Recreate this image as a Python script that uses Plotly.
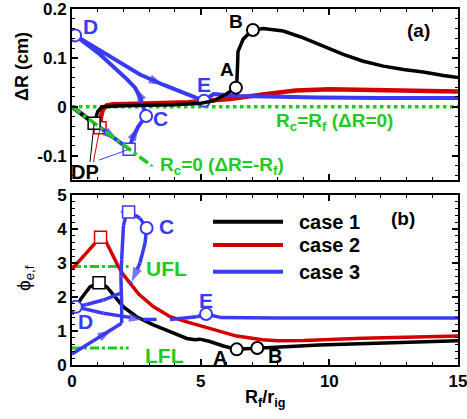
import plotly.graph_objects as go

# ---------------- data : panel (a)  dR (cm) vs Rf/rig ----------------
c1a_x = [0, 0.86, 1.0, 1.16, 2.0, 3.0, 4.0, 5.0, 5.5, 5.75, 6.0, 6.37, 6.4, 6.43, 6.45, 6.57, 6.65, 6.8,
         7.03, 7.43, 8.21, 8.99, 9.77, 10.54, 11.32, 12.1, 12.88, 13.65, 14.43, 15.0]
c1a_y = [0, -0.034, -0.01, 0.0, 0.002, 0.003, 0.004, 0.007, 0.012, 0.019, 0.026, 0.039, 0.045, 0.08, 0.113,
         0.128, 0.138, 0.146, 0.157, 0.160, 0.155, 0.141, 0.124, 0.107, 0.093, 0.083, 0.076, 0.071, 0.064, 0.060]

c2a_x = [0, 1.09, 1.13, 1.2, 1.35, 1.6, 2.5, 3.5, 4.5, 5.2, 6.14, 7.4, 8.7, 10, 12, 15]
c2a_y = [0, -0.043, -0.02, -0.006, 0.003, 0.005, 0.006, 0.007, 0.009, 0.012, 0.016, 0.025, 0.033, 0.036, 0.034, 0.031]

c3a_x = [0, 1.75, 2.22, 2.37, 2.57, 2.76, 2.88, 2.64, 2.45, 2.14, 1.59, 1.09, 0.12, 1.48, 2.64, 3.54, 3.81,
         4.59, 5.13, 5.5, 6.5, 8.0, 9.6, 12, 15]
c3a_y = [0, -0.068, -0.087, -0.062, -0.041, -0.027, -0.019, 0.021, 0.039, 0.056, 0.082, 0.107, 0.146, 0.103,
         0.066, 0.045, 0.039, 0.023, 0.012, 0.026, 0.022, 0.020, 0.019, 0.018, 0.018]

rcrf_x = [0, 15]
rcrf_y = [0, 0]
rc0_x = [0, 3.1]
rc0_y = [0, -0.121]

# ---------------- data : panel (b)  phi_e,f vs Rf/rig ----------------
c1b_x = [0, 0.35, 0.7, 1.05, 1.35, 1.6, 2.0, 2.51, 3.16, 3.81, 4.46, 4.78, 4.97, 5.36, 5.88, 6.4, 7.2, 8.1,
         9.6, 12, 15]
c1b_y = [1.5, 1.95, 2.3, 2.42, 2.30, 2.06, 1.71, 1.42, 1.18, 0.98, 0.78, 0.74, 0.76, 0.69, 0.56, 0.46, 0.5,
         0.53, 0.59, 0.65, 0.71]

c2b_x = [0, 1.11, 1.3, 1.6, 1.8, 2.0, 2.3, 2.6, 3.16, 3.81, 4.46, 5.1, 5.75, 6.4, 7.4, 8.0, 9.0, 11.3, 15]
c2b_y = [2.82, 3.76, 3.66, 3.2, 2.9, 2.65, 2.35, 2.08, 1.72, 1.42, 1.27, 1.13, 0.98, 0.85, 0.74, 0.71, 0.72,
         0.79, 0.85]

c3b_x = [0, 0.8, 1.54, 1.93, 1.93, 1.9, 1.93, 1.95, 2.0, 2.08, 2.2, 2.45, 2.64, 2.9, 2.84, 2.64, 2.32, 1.87,
         1.22, 0.57, 0.15, 1.22, 2.77, 3.81, 4.85, 5.21, 5.75, 8, 12, 15]
c3b_y = [0.32, 0.7, 1.03, 1.23, 1.8, 2.6, 3.1, 3.6, 4.1, 4.35, 4.5, 4.4, 4.32, 4.03, 3.59, 3.0, 2.45, 2.11,
         1.91, 1.78, 1.71, 1.52, 1.34, 1.34, 1.42, 1.5, 1.40, 1.38, 1.38, 1.38]

ufl_x = [0, 2.2]
ufl_y = [2.9, 2.9]
lfl_x = [0, 2.2]
lfl_y = [0.5, 0.5]

case_names = ["case 1", "case 2", "case 3"]

# ---------------- styles ----------------
FONT = "Liberation Sans, Arial, sans-serif"
BLACK, RED, BLUE, GREEN = "#000000", "#d40000", "#3a3af2", "#1ecb1e"
colors = [BLACK, RED, BLUE]

# plot-area geometry in pixels (for paper-coordinate helpers)
L, R, T, B = 72, 9, 9, 54
W, H = 467, 419
PW, PH = W - L - R, H - T - B


def px2paper(px, py):
    return (px - L) / PW, (H - B - py) / PH


fig = go.Figure()


def curve(x, y, color, ax, width=4, arrows=(), circles=(), squares=()):
    xa, ya = ("x2", "y2") if ax == "a" else ("x", "y")
    sym = ["circle"] * len(x)
    size = [0] * len(x)
    for i in arrows:
        sym[i] = "arrow"
        size[i] = 15
    fig.add_trace(go.Scatter(x=x, y=y, mode="lines+markers", xaxis=xa, yaxis=ya,
                             line=dict(color=color, width=width),
                             marker=dict(symbol=sym, size=size, color=color, angleref="previous",
                                         line=dict(width=0)),
                             showlegend=False, hoverinfo="skip"))
    if circles:
        fig.add_trace(go.Scatter(x=[x[i] for i in circles], y=[y[i] for i in circles], mode="markers",
                                 xaxis=xa, yaxis=ya,
                                 marker=dict(symbol="circle", size=12, color="white",
                                             line=dict(color=color, width=2)),
                                 showlegend=False, hoverinfo="skip"))
    if squares:
        fig.add_trace(go.Scatter(x=[x[i] for i in squares], y=[y[i] for i in squares], mode="markers",
                                 xaxis=xa, yaxis=ya,
                                 marker=dict(symbol="square", size=12, color="white",
                                             line=dict(color=color, width=1.5)),
                                 showlegend=False, hoverinfo="skip"))


# green reference lines (a)
fig.add_trace(go.Scatter(x=rcrf_x, y=rcrf_y, mode="lines", xaxis="x2", yaxis="y2",
                         line=dict(color=GREEN, width=3.5, dash="dot"), showlegend=False, hoverinfo="skip"))

# panel (a) curves
curve(c2a_x, c2a_y, RED, "a", width=4.5, squares=(1,))
curve(c3a_x, c3a_y, BLUE, "a", width=4, arrows=(1, 4, 8, 15), circles=(6, 12, 18), squares=(2,))
curve(c1a_x, c1a_y, BLACK, "a", width=3.5, circles=(11, 18), squares=(1,))

fig.add_trace(go.Scatter(x=rc0_x, y=rc0_y, mode="lines+markers", xaxis="x2", yaxis="y2",
                         line=dict(color=GREEN, width=3.5, dash="dashdot"),
                         marker=dict(symbol=["circle", "triangle-up"], size=[0, 5], color=GREEN),
                         showlegend=False, hoverinfo="skip"))

# DP leader lines
dp_tip = {"black": (0.70, -0.113), "red": (0.83, -0.113), "blue": (1.06, -0.109)}
for (x0, y0), (x1, y1), col in [((c1a_x[1], c1a_y[1]), dp_tip["black"], BLACK),
                                ((c2a_x[1], c2a_y[1]), dp_tip["red"], RED),
                                ((c3a_x[2], c3a_y[2]), dp_tip["blue"], BLUE)]:
    fig.add_trace(go.Scatter(x=[x0, x1], y=[y0, y1], mode="lines", xaxis="x2", yaxis="y2",
                             line=dict(color=col, width=1), showlegend=False, hoverinfo="skip"))

# panel (b)
fig.add_trace(go.Scatter(x=ufl_x, y=ufl_y, mode="lines", line=dict(color=GREEN, width=3, dash="dashdot"),
                         showlegend=False, hoverinfo="skip"))
fig.add_trace(go.Scatter(x=lfl_x, y=lfl_y, mode="lines", line=dict(color=GREEN, width=3, dash="dashdot"),
                         showlegend=False, hoverinfo="skip"))
curve(c1b_x, c1b_y, BLACK, "b", width=3.5, circles=(15, 16), squares=(3,))
curve(c2b_x, c2b_y, RED, "b", width=3.5, squares=(1,))
curve(c3b_x, c3b_y, BLUE, "b", width=3.5, arrows=(2, 11, 16, 22), circles=(13, 20, 25), squares=(10,))

# manual legend (panel b)
leg_y = [4.21, 3.53, 2.74]
for name, col, yy in zip(case_names, colors, leg_y):
    fig.add_shape(type="line", xref="x", yref="y", x0=5.48, x1=8.2, y0=yy, y1=yy,
                  line=dict(color=col, width=4))
    fig.add_annotation(x=8.74, y=yy, xref="x", yref="y", text=name, showarrow=False, xanchor="left",
                       font=dict(family=FONT, size=20, color=BLACK, weight="bold"))


def label(text, x, y, color, ax, size=20, xanchor="center"):
    xr, yr = ("x2", "y2") if ax == "a" else ("x", "y")
    fig.add_annotation(x=x, y=y, xref=xr, yref=yr, text=text, showarrow=False, xanchor=xanchor,
                       font=dict(family=FONT, size=size, color=color, weight="bold"))


label("D", 0.70, 0.165, BLUE, "a", 21)
label("C", 3.42, -0.025, BLUE, "a", 21)
label("E", 5.13, 0.045, BLUE, "a", 21)
label("A", 6.02, 0.076, BLACK, "a", 19)
label("B", 6.37, 0.175, BLACK, "a", 19)
label("(a)", 13.45, 0.155, BLACK, "a", 19)
label("DP", 0.5, -0.134, BLACK, "a", 20)
label("R<sub>c</sub>=R<sub>f</sub> (ΔR=0)", 10.22, -0.031, GREEN, "a", 19)
label("R<sub>c</sub>=0 (ΔR=-R<sub>f</sub>)", 3.35, -0.122, GREEN, "a", 19, xanchor="left")

label("C", 3.69, 4.06, BLUE, "b", 21)
label("D", 0.54, 1.29, BLUE, "b", 21)
label("E", 5.21, 1.91, BLUE, "b", 21)
label("A", 5.75, 0.2, BLACK, "b", 20)
label("B", 7.89, 0.26, BLACK, "b", 20)
label("(b)", 12.86, 4.32, BLACK, "b", 19)
label("UFL", 3.69, 2.85, GREEN, "b", 21)
label("LFL", 3.61, 0.29, GREEN, "b", 21)

# axis titles as annotations
ax_, ay_ = px2paper(22, 67)
fig.add_annotation(x=ax_, y=ay_, xref="paper", yref="paper", text="ΔR (cm)", showarrow=False,
                   textangle=-90, xanchor="center", yanchor="middle",
                   font=dict(family=FONT, size=18, color=BLACK, weight="bold"))
ax_, ay_ = px2paper(25, 278)
fig.add_annotation(x=ax_, y=ay_, xref="paper", yref="paper", text="ϕ<sub>e,f</sub>",
                   showarrow=False, textangle=-90, xanchor="center", yanchor="middle",
                   font=dict(family=FONT, size=19, color=BLACK))
ax_, ay_ = px2paper(265, 399)
fig.add_annotation(x=ax_, y=ay_, xref="paper", yref="paper", text="R<sub>f</sub>/r<sub>ig</sub>",
                   showarrow=False, yanchor="middle",
                   font=dict(family=FONT, size=18, color=BLACK, weight="bold"))

tickfont = dict(family=FONT, size=17, color=BLACK, weight="bold")
common = dict(showline=True, linewidth=2, linecolor=BLACK, mirror="allticks", ticks="inside", ticklen=6,
              tickwidth=1.5, tickcolor=BLACK, showgrid=False, zeroline=False, tickfont=tickfont,
              automargin=False, ticklabeloverflow="allow")
minor = dict(ticks="inside", ticklen=3, tickwidth=1, tickcolor=BLACK, showgrid=False)

y_split_lo = (H - B - 180) / PH
y_split_hi = (H - B - 195) / PH

fig.update_layout(
    width=W, height=H, margin=dict(l=L, r=R, t=T, b=B, autoexpand=False),
    paper_bgcolor="white", plot_bgcolor="white", showlegend=False,
    font=dict(family=FONT, color=BLACK),
    xaxis=dict(domain=[0, 1], anchor="y", range=[0, 15], tickvals=[0, 5, 10, 15],
               minor=dict(dtick=1, **minor), **common),
    yaxis=dict(domain=[0, y_split_hi], anchor="x", range=[0, 5], tickvals=[0, 1, 2, 3, 4, 5],
               minor=dict(dtick=0.2, **minor), **common),
    xaxis2=dict(domain=[0, 1], anchor="y2", range=[0, 15], matches="x", showticklabels=False,
                tickvals=[0, 5, 10, 15], minor=dict(dtick=1, **minor), **common),
    yaxis2=dict(domain=[y_split_lo, 1], anchor="x2", range=[-0.15, 0.2], tickvals=[-0.1, 0, 0.1, 0.2],
                ticktext=["-0.1", "0", "0.1", "0.2"], minor=dict(dtick=0.02, **minor), **common),
)

fig.write_html("out.html")
